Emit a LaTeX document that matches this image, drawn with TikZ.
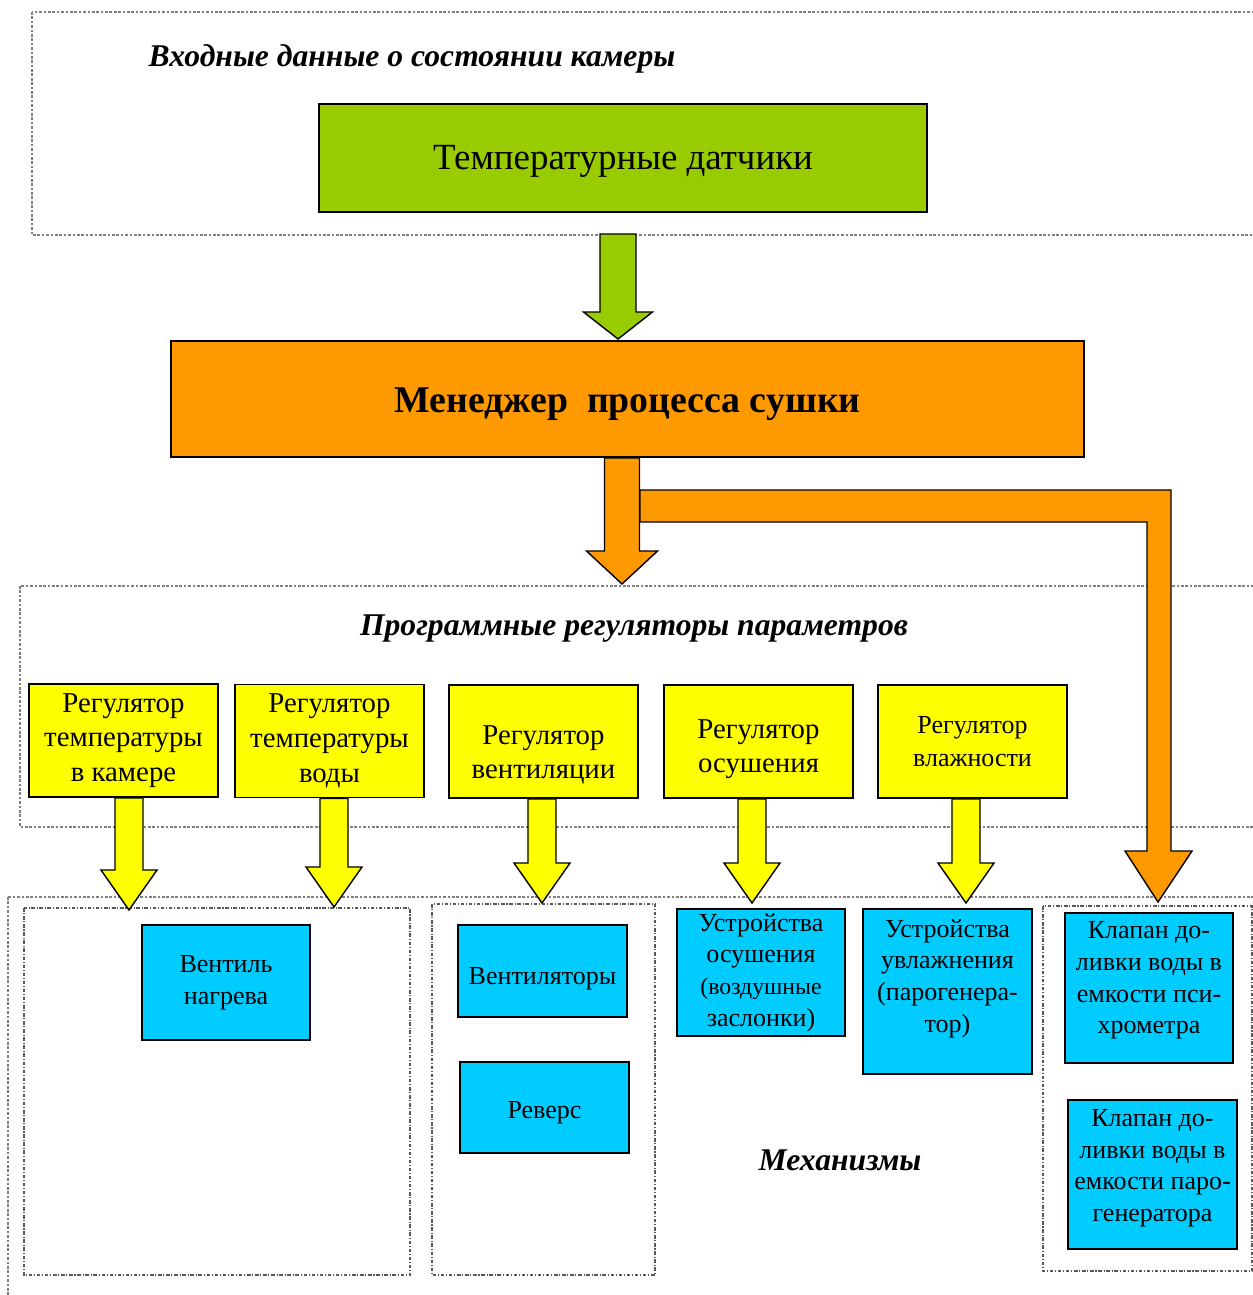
\documentclass[tikz,border=0pt]{standalone}
\usepackage{fontspec}
\setmainfont{Liberation Serif}
\usetikzlibrary{calc}

\definecolor{sensgreen}{HTML}{99CC00}
\definecolor{mgrorange}{HTML}{FF9900}
\definecolor{regyellow}{HTML}{FFFF00}
\definecolor{devblue}{HTML}{00CCFF}

% wide block arrow: fill, start, tip, shaft half width, head half width, head length
\newcommand{\fatarrow}[6]{%
  \draw[fill=#1, line width=0.8pt] let \p1=(#2), \p2=(#3) in
    (\x2-#4,\y1) -- (\x2-#4,\y2+#6) -- (\x2-#5,\y2+#6) -- (\x2,\y2)
    -- (\x2+#5,\y2+#6) -- (\x2+#4,\y2+#6) -- (\x2+#4,\y1) -- cycle;}
% text lowered inside its box, box size kept
\newcommand{\shifted}[2]{%
  \raisebox{-#1}[\height][\depth]{\begin{tabular}{@{}c@{}}#2\end{tabular}}}

\begin{document}
\begin{tikzpicture}[x=0.02cm, y=-0.02cm,
  frame/.style={draw=gray, line width=0.6pt, dash pattern=on 1.5pt off 1pt},
  subframe/.style={draw=gray!70!black, line width=0.6pt, dash pattern=on 2pt off 1pt on 0.6pt off 1pt},
  title/.style={font=\fontsize{18}{22}\selectfont\bfseries\itshape},
  box/.style={draw, line width=1.1pt, align=center, inner sep=0pt},
  sensbox/.style={box, fill=sensgreen, minimum width=12.16cm, minimum height=2.16cm,
    font=\fontsize{21}{25}\selectfont},
  mgrbox/.style={box, fill=mgrorange, minimum width=18.26cm, minimum height=2.32cm,
    font=\fontsize{21.5}{25}\selectfont\bfseries},
  regbox/.style={box, fill=regyellow, minimum width=3.78cm, minimum height=2.26cm,
    font=\fontsize{16.4}{19.8}\selectfont},
  devbox/.style={box, fill=devblue, minimum width=3.37cm,
    font=\fontsize{14.8}{18}\selectfont}]

  \useasboundingbox (0,0) rectangle (1253,1295);
  \clip (0,0) rectangle (1253,1295);

  % Frames
  \draw[frame] (32,12) rectangle (1270,235);
  \draw[frame] (20,586) rectangle (1270,827);
  \draw[frame] (8,897) rectangle (1270,1310);
  \draw[subframe] (24,908) rectangle (410,1275);
  \draw[subframe] (432,904) rectangle (655,1275);
  \draw[subframe] (1043,906) rectangle (1252,1271);

  % Titles
  \node[title] (t1) at (412,59) {Входные данные о состоянии камеры};
  \node[title] (t2) at (634,629) {Программные регуляторы параметров};
  \node[title] (t3) at (840,1160) {Механизмы};

  % Nodes
  \node[sensbox] (sens) at (623,158) {\shifted{1.7pt}{Температурные датчики}};
  \node[mgrbox] (mgr) at (627.5,399) {\shifted{2.8pt}{Менеджер\ \ процесса сушки}};

  \node[regbox] (r1) at (123.5,740.5) {Регулятор\\температуры\\в камере};
  \node[regbox] (r2) at (329.5,741) {Регулятор\\температуры\\воды};
  \node[regbox] (r3) at (543.5,741.5) {\shifted{7.4pt}{Регулятор\\вентиляции}};
  \node[regbox] (r4) at (758.5,741.5) {\shifted{4pt}{Регулятор\\осушения}};
  \node[regbox, font=\fontsize{14.8}{18.5}\selectfont] (r5) at (972.5,741.5) {Регулятор\\влажности};

  \node[devbox, minimum height=2.3cm] (heat) at (226,982.5) {Вентиль\\нагрева};
  \node[devbox, minimum height=1.84cm] (fans) at (542.5,971) {\shifted{4pt}{Вентиляторы}};
  \node[devbox, minimum height=1.82cm] (rev) at (544.5,1107.5) {\shifted{2.8pt}{Реверс}};
  \node[devbox, minimum height=2.54cm] (dry) at (761,972.5)
    {Устройства\\осушения\\\fontsize{13.5}{15.8}\selectfont(воздушные\\заслонки)};
  \node[devbox, minimum height=3.3cm] (wet) at (947.5,991.5)
    {Устройства\\увлажнения\\(парогенера-\\тор)\\~};
  \node[devbox, minimum height=3cm] (v1) at (1149,988)
    {\shifted{-4.5pt}{Клапан до-\\ливки воды в\\емкости пси-\\хрометра}};
  \node[devbox, minimum height=2.98cm] (v2) at (1152.5,1174.5)
    {\shifted{-4pt}{Клапан до-\\ливки воды в\\емкости паро-\\генератора}};

  % Arrow tips
  \coordinate (gt) at (618,339);
  \coordinate (ot) at (622,584);
  \coordinate (vt) at (1158,902);
  \coordinate (y1) at (129,910);
  \coordinate (y2) at (334,907);
  \coordinate (y3) at (542,903);
  \coordinate (y4) at (752,903);
  \coordinate (y5) at (966,903);

  % Arrows
  \fatarrow{sensgreen}{$(sens.south)+(0,21)$}{gt}{0.36cm}{0.69cm}{0.54cm}
  \fatarrow{mgrorange}{mgr.south}{ot}{0.35cm}{0.71cm}{0.66cm}
  \draw[fill=mgrorange, line width=0.8pt] (640,490) -- (1171,490) -- (1171,851)
    -- (1192,851) -- (vt) -- (1125,851) -- (1147,851) -- (1147,522) -- (640,522) -- cycle;
  \fatarrow{regyellow}{r1.south}{y1}{0.28cm}{0.56cm}{0.8cm}
  \fatarrow{regyellow}{r2.south}{y2}{0.28cm}{0.56cm}{0.8cm}
  \fatarrow{regyellow}{r3.south}{y3}{0.28cm}{0.56cm}{0.8cm}
  \fatarrow{regyellow}{r4.south}{y4}{0.28cm}{0.56cm}{0.8cm}
  \fatarrow{regyellow}{r5.south}{y5}{0.28cm}{0.56cm}{0.8cm}

\end{tikzpicture}
\end{document}
